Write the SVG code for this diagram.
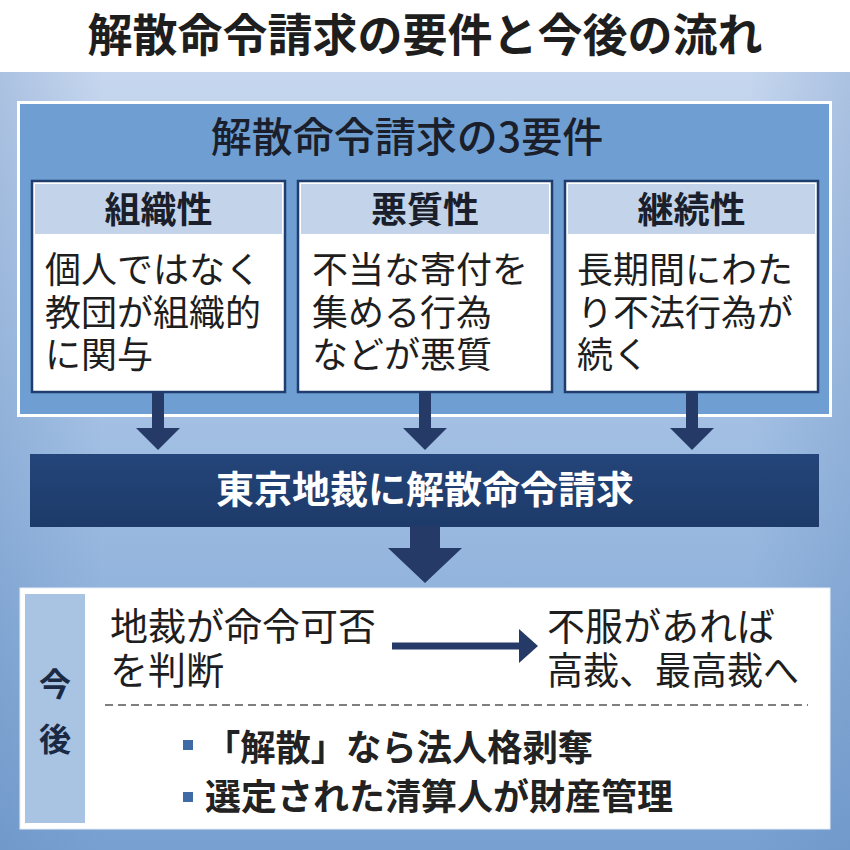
<svg xmlns="http://www.w3.org/2000/svg" width="850" height="850" viewBox="0 0 850 850">
  <defs>
    <linearGradient id="bg" x1="0" y1="0" x2="0" y2="1">
      <stop offset="0" stop-color="#c6d6ee"/>
      <stop offset="0.5" stop-color="#9fbde2"/>
      <stop offset="1" stop-color="#78a0d0"/>
    </linearGradient>
    <linearGradient id="side" x1="0" y1="0" x2="1" y2="0">
      <stop offset="0" stop-color="#5c86bb" stop-opacity="0.25"/>
      <stop offset="0.12" stop-color="#5c86bb" stop-opacity="0"/>
      <stop offset="0.88" stop-color="#5c86bb" stop-opacity="0"/>
      <stop offset="1" stop-color="#5c86bb" stop-opacity="0.25"/>
    </linearGradient>
    <linearGradient id="band" x1="0" y1="0" x2="0" y2="1">
      <stop offset="0" stop-color="#24457a"/>
      <stop offset="1" stop-color="#1d3a69"/>
    </linearGradient>
  </defs>
  <style>
    text { font-family: "Noto Sans CJK JP", "Noto Sans CJK SC", sans-serif; fill: #1e1e1e; }
    .title { font-size: 45px; font-weight: 700; text-anchor: middle; }
    .head { font-size: 41px; font-weight: 500; text-anchor: middle; fill: #1a1f2b; }
    .bh { font-size: 36px; font-weight: 700; text-anchor: middle; fill: #1a1f2b; }
    .body { font-size: 36px; font-weight: 400; }
    .box { fill: #ffffff; stroke: #1f3d6e; stroke-width: 2.5; }
    .bhfill { fill: #c3d4ea; }
    .arrow { fill: #253a66; }
    .band { font-size: 38px; font-weight: 700; text-anchor: middle; fill: #ffffff; }
    .fut { font-size: 38px; font-weight: 400; }
    .lab { font-size: 32px; font-weight: 700; text-anchor: middle; fill: #1a2a44; }
    .bul { font-size: 36px; font-weight: 700; fill: #222222; }
    .sq { fill: #3f6aa6; }
  </style>

  <rect x="0" y="0" width="850" height="850" fill="#ffffff"/>
  <rect x="0" y="72" width="850" height="778" fill="url(#bg)"/>
  <rect x="0" y="72" width="850" height="778" fill="url(#side)"/>

  <g id="title">
    <text class="title" x="425" y="52">解散命令請求の要件と今後の流れ</text>
  </g>

  <g id="requirements-panel">
    <rect x="18.5" y="102.5" width="812" height="313" fill="#6f9ed2" stroke="#ffffff" stroke-width="3"/>
    <text class="head" x="407" y="152">解散命令請求の3要件</text>
  </g>

  <g id="box-soshikisei">
    <rect class="box" x="32" y="181" width="253" height="211"/>
    <rect class="bhfill" x="35" y="184" width="247" height="50"/>
    <text class="bh" x="158.5" y="223">組織性</text>
    <text class="body" x="45" y="283">個人ではなく</text>
    <text class="body" x="45" y="326">教団が組織的</text>
    <text class="body" x="45" y="368">に関与</text>
  </g>

  <g id="box-akushitsusei">
    <rect class="box" x="298" y="181" width="254" height="211"/>
    <rect class="bhfill" x="301" y="184" width="248" height="50"/>
    <text class="bh" x="425" y="223">悪質性</text>
    <text class="body" x="312" y="283">不当な寄付を</text>
    <text class="body" x="312" y="326">集める行為</text>
    <text class="body" x="312" y="368">などが悪質</text>
  </g>

  <g id="box-keizokusei">
    <rect class="box" x="565" y="181" width="253" height="211"/>
    <rect class="bhfill" x="568" y="184" width="247" height="50"/>
    <text class="bh" x="691.5" y="223">継続性</text>
    <text class="body" x="577" y="283">長期間にわた</text>
    <text class="body" x="577" y="326">り不法行為が</text>
    <text class="body" x="577" y="368">続く</text>
  </g>

  <g id="court-request">
    <rect x="30" y="454" width="789" height="73" fill="url(#band)"/>
    <text class="band" x="425" y="503">東京地裁に解散命令請求</text>
  </g>

  <g id="future-panel">
    <rect x="20" y="588" width="810" height="241" fill="#ffffff" stroke="#e8eef7" stroke-width="1"/>
    <rect x="25" y="594" width="60" height="229" fill="#a9c3e3"/>
    <text class="lab" x="55" y="696">今</text>
    <text class="lab" x="55" y="751">後</text>
  </g>

  <g id="district-judgement">
    <text class="fut" x="110" y="640">地裁が命令可否</text>
    <text class="fut" x="110" y="684">を判断</text>
  </g>

  <g id="appeal">
    <text class="fut" x="547" y="640">不服があれば</text>
    <text class="fut" x="547" y="684" textLength="252" lengthAdjust="spacingAndGlyphs">高裁、最高裁へ</text>
  </g>

  <g id="divider">
    <line x1="105" y1="705" x2="808" y2="705" stroke="#555555" stroke-width="1.5" stroke-dasharray="8 5"/>
  </g>

  <g id="outcomes">
    <rect class="sq" x="183" y="740" width="10" height="10"/>
    <text class="bul" x="205" y="761" textLength="388" lengthAdjust="spacingAndGlyphs">「解散」なら法人格剥奪</text>
    <rect class="sq" x="183" y="792" width="10" height="10"/>
    <text class="bul" x="205" y="810">選定された清算人が財産管理</text>
  </g>

  <g id="connectors">
    <polygon class="arrow" points="152,393 164,393 164,428 180,428 158,450 136,428 152,428"/>
    <polygon class="arrow" points="419,393 431,393 431,428 447,428 425,450 403,428 419,428"/>
    <polygon class="arrow" points="686,393 698,393 698,428 714,428 692,450 670,428 686,428"/>
    <polygon class="arrow" points="410,526 440,526 440,548 462,548 425,583 388,548 410,548"/>
    <line x1="392" y1="646" x2="522" y2="646" stroke="#253a66" stroke-width="7"/>
    <polygon class="arrow" points="519,629 538,646 519,663"/>
  </g>
</svg>
